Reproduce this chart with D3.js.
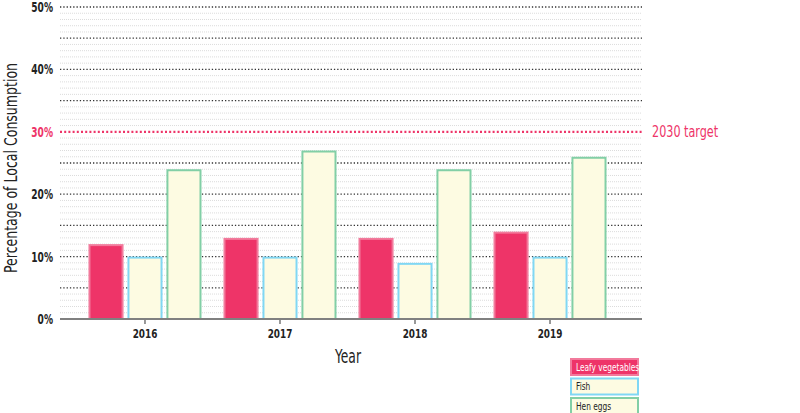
<!DOCTYPE html>
<html><head><meta charset="utf-8">
<script src="https://cdn.jsdelivr.net/npm/d3@7"></script>
<style>
body{margin:0;background:#fff;}
text{font-family:"DejaVu Sans Condensed","DejaVu Sans",sans-serif;font-stretch:condensed;}
</style></head>
<body><svg id="c" width="800" height="413"></svg>
<script>
const years = ["2016","2017","2018","2019"];
const seriesNames = ["Leafy vegetables","Fish","Hen eggs"];
const leafy = [12,13,13,14];
const fish = [10,10,9,10];
const eggs = [24,27,24,26];
const target = 30;
const targetLabel = "2030 target";
const yTicks = [0,10,20,30,40,50];

const fills = ["#EE3468","#FDFBE2","#FDFBE2"];
const strokes = ["#F27A9C","#80D7F4","#82CFA6"];
const seriesVals = [leafy, fish, eggs];

// squeeze text horizontally to imitate the condensed face of the original
function condense(sel, f){
  sel.each(function(){
    const w = this.getComputedTextLength();
    this.setAttribute("textLength", (w*f).toFixed(1));
    this.setAttribute("lengthAdjust","spacingAndGlyphs");
  });
}

const svg = d3.select("#c");
const x0 = 60, x1end = 642;
const x = d3.scaleBand().domain(years).range([60,635]).paddingInner(0.163).paddingOuter(0.211);
const xs = d3.scaleBand().domain(seriesNames).range([0,x.bandwidth()]).paddingInner(0.1).paddingOuter(0);
const y = d3.scaleLinear().domain([0,50]).range([319,7]);

// minor grid
const minor = d3.range(1,51).filter(v=>v%5!==0);
svg.append("g").selectAll("line").data(minor).join("line")
  .attr("x1",x0).attr("x2",x1end).attr("y1",d=>y(d)).attr("y2",d=>y(d))
  .attr("stroke","#dcdcdc").attr("stroke-width",1).attr("stroke-dasharray","1,1");
// major grid
const major = d3.range(5,51,5).filter(v=>v!==target);
svg.append("g").selectAll("line").data(major).join("line")
  .attr("x1",x0).attr("x2",x1end).attr("y1",d=>y(d)).attr("y2",d=>y(d))
  .attr("stroke","#333").attr("stroke-width",1.3).attr("stroke-dasharray","1.3,2");

// bars
const g = svg.append("g");
seriesNames.forEach((s,si)=>{
  g.append("g").selectAll("rect").data(years).join("rect")
    .attr("x",(d)=>x(d)+xs(s)+1)
    .attr("y",(d,i)=>y(seriesVals[si][i])+1)
    .attr("width",xs.bandwidth()-2)
    .attr("height",(d,i)=>y(0)-y(seriesVals[si][i])-1)
    .attr("fill",fills[si]).attr("stroke",strokes[si]).attr("stroke-width",2);
});

// target line
svg.append("line").attr("x1",x0).attr("x2",x1end).attr("y1",y(target)).attr("y2",y(target))
  .attr("stroke","#EE3468").attr("stroke-width",2.2).attr("stroke-dasharray","2,2.2");
svg.append("text").attr("x",652).attr("y",y(target)).attr("dy","0.35em")
  .attr("fill","#EE3468").attr("font-size",15).text(targetLabel)
  .call(condense,0.83);

// x axis
const xa = svg.append("g").attr("transform","translate(0,319)")
  .call(d3.axisBottom(x).tickSize(5).tickPadding(5));
xa.select(".domain").remove();
xa.selectAll(".tick line").attr("stroke","#777").attr("stroke-width",1.5);
xa.selectAll(".tick text").attr("font-size",13).attr("font-weight","bold").attr("fill","#222")
  .attr("font-family",null).call(condense,0.76);
svg.append("line").attr("x1",x0).attr("x2",x1end).attr("y1",319).attr("y2",319)
  .attr("stroke","#808080").attr("stroke-width",2);

// y axis
const ya = svg.append("g").attr("transform","translate(53,0)")
  .call(d3.axisLeft(y).tickValues(yTicks).tickSize(0).tickPadding(0).tickFormat(d=>d+"%"));
ya.select(".domain").remove();
ya.selectAll(".tick text").attr("font-size",14).attr("font-weight","bold")
  .attr("font-family",null)
  .attr("fill",d=>d===target?"#EE3468":"#222").call(condense,0.72);

// titles
svg.append("text").attr("transform","translate(17,168) rotate(-90)").attr("text-anchor","middle")
  .attr("font-size",17).attr("fill","#222").text("Percentage of Local Consumption")
  .call(condense,0.82);
svg.append("text").attr("x",348).attr("y",363).attr("text-anchor","middle")
  .attr("font-size",19).attr("fill","#222").text("Year").call(condense,0.72);

// legend
const lg = svg.append("g").attr("transform","translate(570,358)");
seriesNames.forEach((s,i)=>{
  const gy = i*19.5;
  lg.append("rect").attr("x",1).attr("y",gy+1).attr("width",67).attr("height",16)
    .attr("fill",fills[i]).attr("stroke",strokes[i]).attr("stroke-width",2);
  lg.append("text").attr("x",6).attr("y",gy+9).attr("dy","0.35em").attr("font-size",11)
    .attr("fill",i===0?"#fff":"#222").text(s).call(condense,0.75);
});
</script></body></html>
